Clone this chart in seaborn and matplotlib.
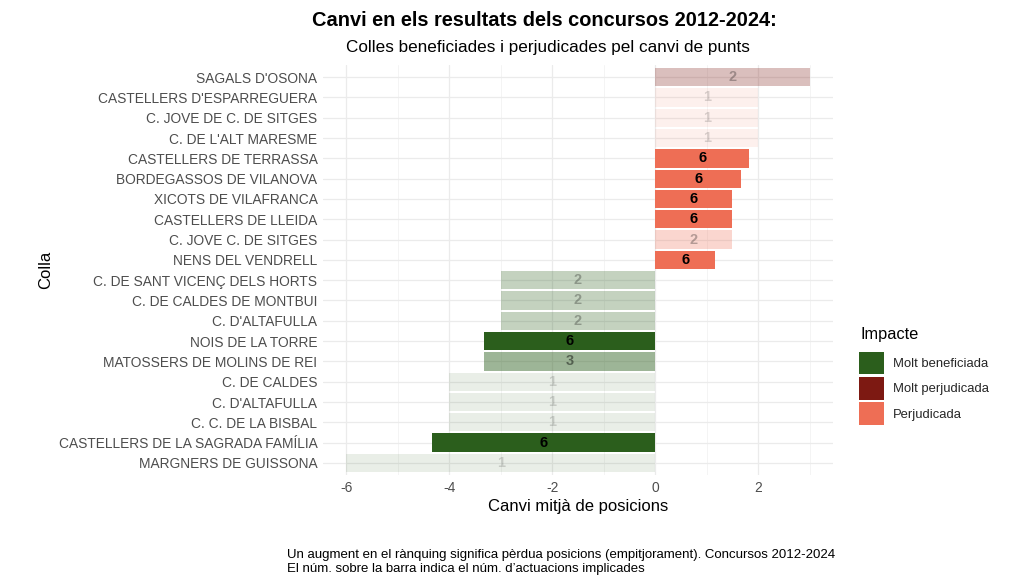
import pandas as pd
import numpy as np
import matplotlib
matplotlib.use('Agg')
import matplotlib.pyplot as plt
from matplotlib.patches import Patch
import seaborn as sns

# ── DATA ─────────────────────────────────────────────────────
colles = ["SAGALS D'OSONA", "CASTELLERS D'ESPARREGUERA", "C. JOVE DE C. DE SITGES",
          "C. DE L'ALT MARESME", "CASTELLERS DE TERRASSA", "BORDEGASSOS DE VILANOVA",
          "XICOTS DE VILAFRANCA", "CASTELLERS DE LLEIDA", "C. JOVE C. DE SITGES",
          "NENS DEL VENDRELL", "C. DE SANT VICENÇ DELS HORTS", "C. DE CALDES DE MONTBUI",
          "C. D'ALTAFULLA", "NOIS DE LA TORRE", "MATOSSERS DE MOLINS DE REI",
          "C. DE CALDES", "C. D'ALTAFULLA", "C. C. DE LA BISBAL",
          "CASTELLERS DE LA SAGRADA FAMÍLIA", "MARGNERS DE GUISSONA"]
canvi = [3.0, 2.0, 2.0, 2.0, 1.83, 1.67, 1.5, 1.5, 1.5, 1.17,
         -3.0, -3.0, -3.0, -3.33, -3.33, -4.0, -4.0, -4.0, -4.33, -6.0]
n_actuacions = [2, 1, 1, 1, 6, 6, 6, 6, 2, 6,
                2, 2, 2, 6, 3, 1, 1, 1, 6, 1]
impacte = ["Molt perjudicada"] + ["Perjudicada"] * 9 + ["Molt beneficiada"] * 10

nivells = ["Molt beneficiada", "Molt perjudicada", "Perjudicada"]
paleta = {"Molt beneficiada": "#2b5e1c",
          "Molt perjudicada": "#7d1912",
          "Perjudicada": "#ee6e55"}

df = pd.DataFrame({'pos': range(len(colles)), 'colla': colles, 'canvi': canvi,
                   'n': n_actuacions, 'impacte': impacte})
# ggplot-like alpha scale (0.1 .. 1)
nmin, nmax = df['n'].min(), df['n'].max()
df['alpha'] = 0.1 + 0.9 * (df['n'] - nmin) / (nmax - nmin)

# ── PLOT ─────────────────────────────────────────────────────
sns.set_theme(style='white')
plt.rcParams['font.family'] = ['Liberation Sans', 'DejaVu Sans']

fig = plt.figure(figsize=(10.24, 5.88), dpi=100, facecolor='white')
ax = fig.add_axes([0.3154, 0.192, 0.498, 0.6975])

sns.barplot(data=df, x='canvi', y='pos', hue='impacte', hue_order=nivells,
            palette=paleta, orient='h', dodge=False, width=0.9,
            legend=False, ax=ax, saturation=1)

alpha_by_pos = dict(zip(df['pos'], df['alpha']))
for p in ax.patches:
    idx = int(round(p.get_y() + p.get_height() / 2))
    if idx in alpha_by_pos:
        p.set_alpha(alpha_by_pos[idx])
        p.set_edgecolor('none')

for _, r in df.iterrows():
    ax.text(r['canvi'] / 2, r['pos'], str(r['n']), ha='center', va='center',
            fontsize=10.5, fontweight='bold', color='black', alpha=max(r['alpha'], 0.15))

ax.set_xlim(-6.45, 3.45)
ax.set_ylim(len(colles) - 0.4, -0.6)
ax.set_xticks([-6, -4, -2, 0, 2])
ax.set_xticklabels(['-6', '-4', '-2', '0', '2'])
ax.set_xticks([-5, -3, -1, 1, 3], minor=True)
ax.set_yticks(range(len(colles)))
ax.set_yticklabels(colles)
ax.tick_params(axis='both', length=0, colors='#4d4d4d', labelsize=9.9, pad=4)
ax.tick_params(axis='x', which='minor', length=0)

ax.grid(True, which='major', color='#ebebeb', linewidth=0.9)
ax.grid(True, which='minor', axis='x', color='#f2f2f2', linewidth=0.6)
ax.set_axisbelow(True)
for s in ax.spines.values():
    s.set_visible(False)

ax.set_xlabel('Canvi mitjà de posicions', fontsize=12, color='black', labelpad=3)
ax.set_ylabel('Colla', fontsize=12, color='black', labelpad=4)

fig.text(0.532, 0.965, 'Canvi en els resultats dels concursos 2012-2024:',
         ha='center', va='center', fontsize=14.4, fontweight='bold', color='black')
fig.text(0.535, 0.92, 'Colles beneficiades i perjudicades pel canvi de punts',
         ha='center', va='center', fontsize=12.3, color='black')

fig.text(287 / 1024, 1 - 562 / 588,
         'Un augment en el rànquing significa pèrdua posicions (empitjorament). Concursos 2012-2024\n'
         'El núm. sobre la barra indica el núm. d’actuacions implicades',
         ha='left', va='center', fontsize=9.5, color='black', linespacing=1.2)

# legend
fig.text(860 / 1024, 1 - 334 / 588, 'Impacte', ha='left', va='center',
         fontsize=11.8, color='black')
handles = [Patch(facecolor=paleta[k], edgecolor='none', label=k) for k in nivells]
fig.legend(handles=handles, loc='upper left',
           bbox_to_anchor=(847 / 1024, 1 - 340 / 588), frameon=False,
           fontsize=9.4, handlelength=1.9, handleheight=2.3,
           labelspacing=0.2, handletextpad=0.75)

plt.savefig('out.png', dpi=100, facecolor='white')
